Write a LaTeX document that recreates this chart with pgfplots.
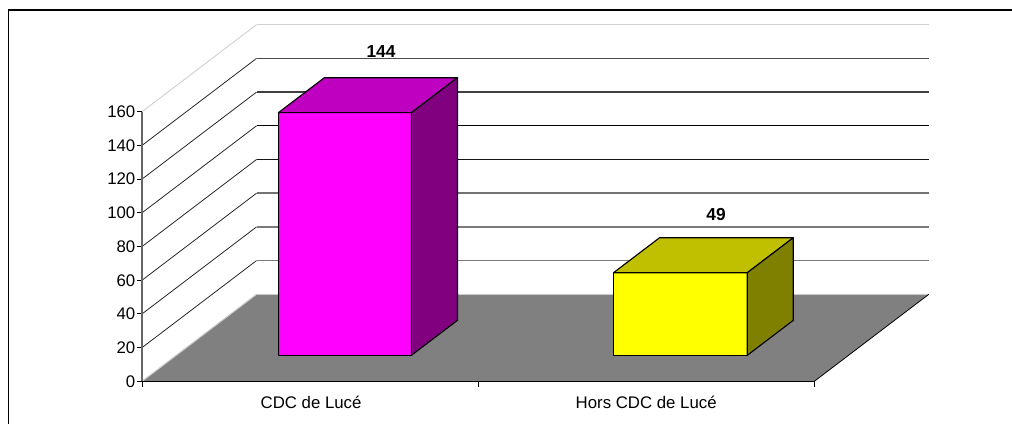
\documentclass[border=0pt]{standalone}
\usepackage{pgfplots}
\pgfplotsset{compat=1.18}
\usepackage{fontspec}
\setmainfont{Liberation Sans}
\definecolor{mag}{HTML}{FF00FF}
\definecolor{magtop}{HTML}{C000C0}
\definecolor{magside}{HTML}{800080}
\definecolor{yel}{HTML}{FFFF00}
\definecolor{yeltop}{HTML}{C0C000}
\definecolor{yelside}{HTML}{808000}
\begin{document}
\begin{tikzpicture}
\useasboundingbox (-106.5pt,-32pt) rectangle (652.5pt,286pt);
\draw[black,line width=.85pt] (-100.1pt,-32pt) -- (-100.1pt,278.5pt) -- (652.5pt,278.5pt);
\begin{axis}[
  at={(0pt,0pt)}, anchor=origin,
  scale only axis, width=504.2pt, height=202.2pt,
  xmin=0, xmax=2, ymin=0, ymax=160,
  clip=false, axis on top=true,
  axis x line=bottom, axis y line=left,
  x axis line style={-, black, line width=1.1pt},
  y axis line style={-, black!60, line width=1pt},
  tick align=outside, major tick length=4.1pt,
  tick style={black, line width=.7pt},
  ytick={0,20,40,60,80,100,120,140,160},
  xtick={0,1,2}, xticklabels={},
  extra x ticks={0.503,1.5},
  extra x tick labels={CDC de Lucé,Hors CDC de Lucé},
  extra x tick style={major tick length=0pt, tick style={draw=none},
     xticklabel style={yshift=-9.6pt}},
  /pgf/number format/assume math mode=true,
  tick label style={font=\fontsize{12.6}{14}\selectfont, text=black},
  yticklabel style={xshift=0.3pt},
  tick label style={inner sep=1pt},
]
% side wall grid lines
\addplot[mark=none, draw=black!85, line width=.6pt] coordinates {(0,20)(.3408,71.66)};
\addplot[mark=none, draw=black!85, line width=.6pt] coordinates {(0,40)(.3408,91.66)};
\addplot[mark=none, draw=black!85, line width=.6pt] coordinates {(0,60)(.3408,111.66)};
\addplot[mark=none, draw=black!85, line width=.6pt] coordinates {(0,80)(.3408,131.66)};
\addplot[mark=none, draw=black!85, line width=.6pt] coordinates {(0,100)(.3408,151.66)};
\addplot[mark=none, draw=black!85, line width=.6pt] coordinates {(0,120)(.3408,171.66)};
\addplot[mark=none, draw=black!85, line width=.6pt] coordinates {(0,140)(.3408,191.66)};
\addplot[mark=none, draw=black!18, line width=.7pt] coordinates {(0,160)(.3408,211.66)};
% back wall grid lines
\addplot[mark=none, draw=black!52, line width=1.25pt] coordinates {(.3408,71.66)(2.3408,71.66)};
\addplot[mark=none, draw=black!52, line width=1.25pt] coordinates {(.3408,91.66)(2.3408,91.66)};
\addplot[mark=none, draw=black!55, line width=1.25pt] coordinates {(.3408,111.66)(2.3408,111.66)};
\addplot[mark=none, draw=black!92, line width=.85pt] coordinates {(.3408,131.66)(2.3408,131.66)};
\addplot[mark=none, draw=black, line width=.85pt] coordinates {(.3408,151.66)(2.3408,151.66)};
\addplot[mark=none, draw=black!75, line width=1pt] coordinates {(.3408,171.66)(2.3408,171.66)};
\addplot[mark=none, draw=black!70, line width=1pt] coordinates {(.3408,191.66)(2.3408,191.66)};
\addplot[mark=none, draw=black!18, line width=1.1pt] coordinates {(.3408,211.66)(2.3408,211.66)};
% floor
\addplot[draw=none, fill=black!50] coordinates {(0,0)(2,0)(2.3408,51.66)(.3408,51.66)} -- cycle;
\addplot[mark=none, draw=black!20, line width=.8pt] coordinates {(0,0)(.3408,51.66)(2.3408,51.66)};
\addplot[mark=none, draw=black, line width=.6pt] coordinates {(2,0)(2.3408,51.66)};
% bar 1
\addplot[draw=black, line width=.85pt, fill=mag, line join=round] coordinates {(.4057,15.44)(.8015,15.44)(.8015,159.44)(.4057,159.44)} -- cycle;
\addplot[draw=black, line width=.85pt, fill=magtop, line join=round] coordinates {(.4057,159.44)(.8015,159.44)(.9384,180.2)(.5426,180.2)} -- cycle;
\addplot[draw=black, line width=.85pt, fill=magside, line join=round] coordinates {(.8015,15.44)(.9384,36.2)(.9384,180.2)(.8015,159.44)} -- cycle;
% bar 2
\addplot[draw=black, line width=.85pt, fill=yel, line join=round] coordinates {(1.4027,15.44)(1.8006,15.44)(1.8006,64.44)(1.4027,64.44)} -- cycle;
\addplot[draw=black, line width=.85pt, fill=yeltop, line join=round] coordinates {(1.4027,64.44)(1.8006,64.44)(1.9375,85.2)(1.5396,85.2)} -- cycle;
\addplot[draw=black, line width=.85pt, fill=yelside, line join=round] coordinates {(1.8006,15.44)(1.9375,36.2)(1.9375,85.2)(1.8006,64.44)} -- cycle;
% value labels
\node[font=\fontsize{13}{15}\bfseries\selectfont, text=black] at (axis cs:0.711,195.5) {144};
\node[font=\fontsize{13}{15}\bfseries\selectfont, text=black] at (axis cs:1.708,98.8) {49};
\end{axis}
\end{tikzpicture}
\end{document}
